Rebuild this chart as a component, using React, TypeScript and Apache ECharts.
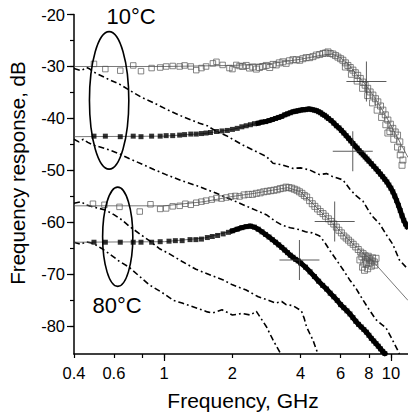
import React, { useEffect, useRef } from "react";
import * as echarts from "echarts";

// ---------- axis ticks ----------
const xMin = 0.4;
const xMax = 11.9;
const yMin = -85.3;
const yMax = -20;
const xLabelValues = [0.4, 0.6, 1, 2, 4, 6, 8, 10];
const xMinorTickValues = [0.4, 0.6, 0.8, 1, 2, 4, 6, 8, 10];
const xMajorTickValues = [1, 10];
const yLabelValues = [-80, -70, -60, -50, -40, -30, -20];
const yMinorTickValues = [-80, -75, -70, -65, -60, -55, -50, -45, -40, -35, -30, -25, -20];

// ---------- 10 °C ----------
const open10: number[][] = [
  [0.49, -29.5], [0.55, -30.5], [0.64, -30.8], [0.73, -29.8], [0.79, -30.9], [0.88, -30.3], [0.96, -30.2],
  [1.02, -30.0], [1.09, -29.9], [1.17, -30.0], [1.23, -29.8], [1.31, -30.0], [1.385, -30.7], [1.46, -30.3],
  [1.53, -30.0], [1.64, -29.4], [1.7, -29.1], [1.81, -29.7], [1.94, -30.3], [2.0, -30.5], [2.08, -29.7],
  [2.15, -29.9], [2.22, -30.0], [2.3, -29.8], [2.38, -30.3], [2.46, -30.1], [2.55, -30.5], [2.63, -30.2],
  [2.72, -30.0], [2.82, -29.8], [2.92, -30.2], [3.02, -29.6], [3.12, -29.7], [3.22, -29.3], [3.34, -29.1],
  [3.45, -29.4], [3.57, -28.9], [3.7, -28.7], [3.83, -28.7], [3.96, -28.8], [4.09, -28.5], [4.23, -28.3],
  [4.38, -28.3], [4.53, -28.1], [4.69, -27.8], [4.85, -27.7], [5.02, -27.5], [5.15, -27.4], [5.28, -27.2],
  [5.4, -27.5], [5.55, -27.6], [5.7, -27.9], [5.84, -28.2], [6.0, -28.5], [6.14, -28.8], [6.3, -29.3],
  [6.46, -29.8], [6.62, -30.2], [6.8, -30.7], [6.97, -31.2], [7.14, -31.7], [7.33, -32.3], [7.52, -33.0],
  [7.7, -33.6], [7.9, -34.2], [8.1, -34.9], [8.33, -35.5], [8.55, -36.2], [8.76, -36.8], [9.0, -37.6],
  [9.22, -38.4], [9.45, -39.3], [9.7, -40.3], [9.95, -41.1], [10.2, -41.9], [10.45, -42.6], [10.7, -43.2],
  [10.95, -44.5], [11.15, -46.0], [11.3, -48.0],
  [6.3, -30.1], [6.7, -31.5], [7.1, -32.8], [7.5, -34.2], [7.9, -35.6], [8.3, -37.0], [8.7, -38.4],
  [9.1, -39.8], [9.5, -41.2], [9.9, -42.5], [10.3, -44.0], [10.7, -45.5], [11.0, -47.0], [11.2, -49.0],
  [9.7, -42.8],
];
const fitOpen10: number[][] = [
  [0.4, -30.0], [1, -30.0], [2, -29.8], [3, -29.4], [4, -28.6], [5, -27.8], [5.5, -27.6], [6, -28.3],
  [6.5, -29.6], [7, -31.3], [7.7, -33.4], [8.5, -36.0], [9.5, -39.5], [10.5, -43.0], [11.9, -47.5],
];
const filled10: number[][] = [
  [0.49, -43.4], [0.55, -43.4], [0.64, -43.5], [0.73, -43.4], [0.79, -43.5], [0.88, -43.4], [0.96, -43.4],
  [1.02, -43.3], [1.09, -43.3], [1.17, -43.2], [1.23, -43.1], [1.31, -43.0], [1.385, -43.0], [1.46, -42.9],
  [1.53, -42.8], [1.6, -42.7], [1.7, -42.5], [1.8, -42.4], [1.9, -42.3], [2.0, -42.1], [2.1, -41.9],
  [2.2, -41.6], [2.3, -41.4], [2.4, -41.2], [2.5, -41.0], [2.6, -40.9], [2.7, -40.7], [2.8, -40.6],
  [2.9, -40.4], [3.0, -40.2], [3.1, -40.0], [3.2, -39.8], [3.3, -39.6], [3.4, -39.3], [3.5, -39.1],
  [3.6, -38.9], [3.7, -38.7], [3.8, -38.6], [3.9, -38.5], [4.0, -38.4], [4.1, -38.3], [4.2, -38.3],
  [4.3, -38.2], [4.4, -38.2], [4.5, -38.3], [4.6, -38.4], [4.7, -38.5], [4.8, -38.7], [4.9, -38.9],
  [5.0, -39.2], [5.1, -39.4], [5.2, -39.7], [5.3, -40.0], [5.45, -40.4], [5.6, -40.9], [5.75, -41.4],
  [5.9, -41.8], [6.05, -42.3], [6.2, -42.8], [6.35, -43.3], [6.5, -43.8], [6.65, -44.3], [6.8, -44.8],
  [6.95, -45.3], [7.1, -45.7], [7.25, -46.2], [7.4, -46.6], [7.55, -47.0], [7.7, -47.4], [7.85, -47.8],
  [8.0, -48.2], [8.2, -48.7], [8.4, -49.2], [8.6, -49.7], [8.8, -50.2], [9.0, -50.7], [9.2, -51.2],
  [9.4, -51.7], [9.6, -52.2], [9.8, -52.8], [10.0, -53.4], [10.2, -54.1], [10.4, -54.9], [10.6, -55.8],
  [10.8, -56.7], [11.0, -57.7], [11.2, -58.7], [11.4, -59.6], [11.6, -60.3], [11.8, -60.8],
];
const fitFilled10: number[][] = [
  [0.4, -43.5], [1, -43.4], [1.5, -42.9], [2, -42.1], [3, -40.2], [4, -38.4], [4.4, -38.2], [5, -39.2],
  [6, -42.2], [7, -45.4], [8, -48.2], [9, -50.7], [10, -53.4], [11, -57.7], [11.9, -61.0],
];
const dashA10: number[][] = [
  [0.4, -30.4], [0.43, -30.8], [0.455, -30.2], [0.47, -30.5], [0.49, -31.1], [0.57, -32.5], [0.635, -33.4],
  [0.73, -35.0], [0.8, -36.0], [0.9, -37.0], [1.02, -38.2], [1.2, -39.6], [1.43, -40.9], [1.55, -41.4],
  [1.7, -42.5], [1.88, -43.3], [2.22, -45.1], [2.5, -46.2], [2.82, -47.3], [3.02, -48.6], [3.3, -48.9],
  [3.7, -49.6], [4.0, -49.5], [4.38, -49.9], [4.85, -50.8], [5.2, -50.6], [5.55, -51.2], [6.14, -51.8],
  [6.6, -53.6], [7.0, -54.8], [7.53, -55.9], [8.2, -58.6], [8.93, -60.3], [9.6, -62.5], [10.2, -64.2],
  [10.9, -67.2], [11.9, -69.0],
];
const dashB10: number[][] = [
  [0.4, -44.0], [0.42, -44.5], [0.44, -44.0], [0.46, -44.6], [0.485, -45.1], [0.56, -45.9], [0.635, -46.8],
  [0.7, -47.7], [0.8, -48.8], [0.9, -49.8], [1.02, -50.8], [1.2, -52.0], [1.43, -53.1], [1.7, -54.4],
  [2.0, -55.7], [2.4, -57.2], [2.82, -58.5], [3.1, -59.8], [3.34, -60.6], [3.6, -61.0], [3.96, -61.4],
  [4.2, -61.8], [4.5, -62.0], [4.85, -62.6], [5.1, -63.8], [5.4, -65.5], [5.75, -67.2], [6.2, -69.3],
  [6.57, -71.0], [7.0, -72.6], [7.53, -74.9], [8.0, -76.7], [8.6, -78.7], [9.1, -79.6], [9.5, -80.2],
  [10.0, -82.0], [10.7, -84.5], [10.9, -85.3],
];

// ---------- 80 °C ----------
const open80: number[][] = [
  [0.485, -56.4], [0.545, -56.6], [0.635, -57.0], [0.78, -57.9], [0.87, -56.5], [0.96, -57.4], [1.02, -57.3],
  [1.09, -56.9], [1.17, -56.8], [1.24, -56.4], [1.31, -56.6], [1.385, -56.2], [1.46, -56.0], [1.53, -55.8],
  [1.62, -55.6], [1.7, -55.3], [1.79, -55.4], [1.88, -55.2], [1.97, -55.0], [2.06, -54.9], [2.15, -55.0],
  [2.25, -54.7], [2.35, -54.6], [2.45, -54.6], [2.55, -54.4], [2.65, -54.3], [2.75, -54.1], [2.85, -54.0],
  [2.95, -53.9], [3.05, -53.8], [3.15, -53.7], [3.25, -53.5], [3.35, -53.4], [3.45, -53.2], [3.55, -53.3],
  [3.65, -53.4], [3.75, -53.6], [3.85, -53.8], [3.95, -54.1], [4.05, -54.4], [4.15, -54.8], [4.25, -55.1],
  [4.38, -55.8], [4.5, -56.4], [4.62, -56.9], [4.75, -57.4], [4.88, -57.9], [5.02, -58.3], [5.15, -58.8],
  [5.3, -59.3], [5.45, -59.8], [5.6, -60.3], [5.75, -60.9], [5.9, -61.5], [6.05, -62.0], [6.2, -62.6],
  [6.35, -63.0], [6.5, -63.4], [6.65, -63.8], [6.82, -64.2], [7.0, -64.7], [7.18, -65.2], [7.36, -65.7],
  [7.54, -66.0], [7.7, -66.4], [7.88, -66.8], [8.06, -67.0], [8.25, -67.4], [8.45, -67.6],
  [7.3, -67.2], [7.45, -66.6], [7.6, -67.8], [7.8, -68.0], [7.75, -67.2], [7.95, -66.5], [8.1, -67.8],
  [8.3, -66.8], [8.5, -68.2], [8.6, -66.9], [7.5, -68.6], [7.9, -68.9], [8.2, -68.4], [7.65, -69.2],
];
const fitOpen80: number[][] = [
  [0.4, -56.8], [1, -56.8], [1.5, -56.0], [2, -55.0], [2.5, -54.4], [3, -53.8], [3.5, -53.3], [4, -54.1],
  [4.5, -56.3], [5, -58.3], [5.5, -60.0], [6, -61.8], [6.5, -63.3], [7, -64.6], [7.5, -65.8], [8, -66.8],
  [8.35, -67.5], [11.9, -75.0],
];
const filled80: number[][] = [
  [0.49, -63.8], [0.55, -63.8], [0.64, -63.8], [0.73, -63.8], [0.79, -63.8], [0.88, -63.8], [0.96, -63.7],
  [1.05, -63.6], [1.12, -63.5], [1.2, -63.5], [1.3, -63.3], [1.38, -63.3], [1.46, -63.2], [1.55, -62.9],
  [1.63, -62.7], [1.72, -62.5], [1.82, -62.2], [1.92, -61.9], [2.0, -61.6], [2.1, -61.3], [2.2, -61.0],
  [2.3, -60.8], [2.4, -60.7], [2.5, -60.9], [2.6, -61.3], [2.7, -61.8], [2.8, -62.3], [2.9, -62.8],
  [3.0, -63.3], [3.1, -63.8], [3.2, -64.3], [3.3, -64.8], [3.4, -65.3], [3.5, -65.8], [3.6, -66.3],
  [3.7, -66.7], [3.8, -67.1], [3.9, -67.4], [4.0, -67.8], [4.2, -68.6], [4.4, -69.5], [4.6, -70.4],
  [4.8, -71.3], [5.0, -72.1], [5.2, -72.8], [5.4, -73.6], [5.6, -74.3], [5.8, -75.0], [6.0, -75.8],
  [6.2, -76.4], [6.4, -77.0], [6.6, -77.6], [6.8, -78.3], [7.0, -79.0], [7.2, -79.6], [7.4, -80.1],
  [7.6, -80.6], [7.8, -81.1], [8.0, -81.7], [8.2, -82.3], [8.4, -82.8], [8.6, -83.3], [8.8, -83.8],
  [9.0, -84.3], [9.2, -84.8], [9.4, -85.2],
];
const fitFilled80: number[][] = [
  [0.4, -63.8], [1, -63.7], [1.5, -63.0], [2, -61.6], [2.4, -60.7], [2.8, -62.2], [3.5, -65.7],
  [4, -67.8], [5, -72.0], [6, -75.8], [7, -79.0], [8, -81.7], [9, -84.3], [9.6, -85.5],
];
const dashA80: number[][] = [
  [0.4, -56.3], [0.43, -56.0], [0.45, -56.6], [0.485, -57.0], [0.55, -57.6], [0.6, -58.5], [0.65, -59.5],
  [0.7, -60.7], [0.78, -62.2], [0.86, -63.5], [0.95, -65.0], [1.05, -66.0], [1.2, -67.5], [1.38, -69.0],
  [1.64, -70.3], [1.81, -71.0], [2.0, -72.0], [2.3, -73.0], [2.6, -74.3], [2.9, -75.0], [3.1, -75.5],
  [3.3, -75.2], [3.45, -75.8], [3.7, -76.0], [4.03, -77.0], [4.15, -78.5], [4.24, -80.0], [4.4, -81.5],
  [4.53, -82.6], [4.65, -84.0], [4.77, -85.3],
];
const dashB80: number[][] = [
  [0.4, -63.8], [0.43, -64.2], [0.45, -63.7], [0.485, -64.0], [0.53, -65.0], [0.58, -66.2], [0.635, -67.5],
  [0.7, -68.6], [0.78, -70.4], [0.86, -72.0], [0.98, -73.5], [1.1, -75.0], [1.2, -75.5], [1.4, -76.5],
  [1.55, -77.2], [1.64, -77.4], [1.8, -76.8], [2.0, -77.8], [2.2, -77.5], [2.4, -77.8], [2.55, -77.1],
  [2.64, -78.1], [2.82, -80.0], [3.02, -82.6], [3.26, -85.2],
];

// crosses marking the cut-off points
const crossPoints: number[][] = [
  [7.8, -32.9], [6.79, -46.3], [5.65, -59.8], [3.95, -67.2],
];
// ellipses: [f left, f right, top dB, bottom dB]
const ellipses: number[][] = [
  [0.468, 0.698, -23.3, -49.75],
  [0.535, 0.727, -53.2, -72.3],
];
const tempLabels = ["10°C", "80°C"];
// frequency above which the filled markers merge into a continuous band
const bandFrom10 = 2.6;
const bandFrom80 = 2.0;

const FONT = "'Liberation Sans', Arial, Helvetica, sans-serif";
const lg = (pts: number[][]) => pts.map(([f, v]) => [Math.log10(f), v]);

export default function App() {
  const ref = useRef<HTMLDivElement>(null);
  useEffect(() => {
    if (!ref.current) return;
    const chart = echarts.init(ref.current, null, { renderer: "svg" });
    const xCommon = {
      type: "value",
      min: Math.log10(xMin),
      max: Math.log10(xMax),
      position: "bottom",
      splitLine: { show: false },
    };
    const yCommon = {
      type: "value",
      min: yMin,
      max: yMax,
      position: "left",
      splitLine: { show: false },
    };
    const thin = (data: number[][]) => ({
      type: "line",
      data: lg(data),
      symbol: "none",
      lineStyle: { color: "#555", width: 0.8 },
      z: 2,
    });
    const dash = (data: number[][]) => ({
      type: "line",
      data: lg(data),
      symbol: "none",
      lineStyle: { color: "#000", width: 1.6, type: [6, 3, 1.8, 3] },
      z: 1,
    });
    const band = (data: number[][], from: number) => ({
      type: "line",
      data: lg(data.filter((p) => p[0] >= from)),
      symbol: "none",
      lineStyle: { color: "#000", width: 5, cap: "square", join: "round" },
      z: 3,
    });
    const openSq = (data: number[][]) => ({
      type: "scatter",
      data: lg(data),
      symbol: "rect",
      symbolSize: (v: number[]) => (v[0] > Math.log10(2.2) ? 6 : 5.5),
      itemStyle: { color: "rgba(255,255,255,0)", borderColor: "#555", borderWidth: 0.9 },
      z: 3,
    });
    const filledSq = (data: number[][]) => ({
      type: "scatter",
      data: lg(data),
      symbol: "rect",
      symbolSize: 5,
      itemStyle: { color: "#000" },
      z: 3,
    });
    const option: any = {
      animation: false,
      textStyle: { fontFamily: FONT },
      grid: { left: 74, right: 0, top: 14.5, bottom: 63, containLabel: false, outerBoundsMode: "none" },
      xAxis: [
        {
          ...xCommon,
          axisLine: { show: true, onZero: false, lineStyle: { color: "#000", width: 1.5 } },
          axisTick: {
            show: true,
            length: 4,
            customValues: xMinorTickValues.map((v) => Math.log10(v)),
            lineStyle: { color: "#000", width: 1.2 },
          },
          axisLabel: {
            show: true,
            margin: 10,
            fontSize: 16.5,
            color: "#000",
            fontFamily: FONT,
            customValues: xLabelValues.map((v) => Math.log10(v)),
            formatter: (v: number) => String(Number(Math.pow(10, v).toPrecision(2))),
          },
        },
        {
          ...xCommon,
          axisLine: { show: false, onZero: false },
          axisTick: {
            show: true,
            length: 7,
            customValues: xMajorTickValues.map((v) => Math.log10(v)),
            lineStyle: { color: "#000", width: 1.2 },
          },
          axisLabel: { show: false },
        },
      ],
      yAxis: [
        {
          ...yCommon,
          axisLine: { show: true, onZero: false, lineStyle: { color: "#000", width: 1.5 } },
          axisTick: { show: true, length: 7, customValues: yLabelValues, lineStyle: { color: "#000", width: 1.2 } },
          axisLabel: {
            show: true,
            margin: 9,
            fontSize: 16.5,
            color: "#000",
            fontFamily: FONT,
            customValues: yLabelValues,
          },
        },
        {
          ...yCommon,
          axisLine: { show: false, onZero: false },
          axisTick: { show: true, length: 4, customValues: yMinorTickValues, lineStyle: { color: "#000", width: 1.2 } },
          axisLabel: { show: false },
        },
      ],
      series: [
        dash(dashA10),
        dash(dashB10),
        dash(dashA80),
        dash(dashB80),
        thin(fitOpen10),
        thin(fitFilled10),
        thin(fitOpen80),
        thin(fitFilled80),
        band(filled10, bandFrom10),
        band(filled80, bandFrom80),
        openSq(open10),
        filledSq(filled10),
        openSq(open80),
        filledSq(filled80),
        {
          type: "scatter",
          data: lg(crossPoints),
          symbol: "path://M19.5,0H20.5V40H19.5Z M0,19.5H40V20.5H0Z",
          symbolSize: 40,
          itemStyle: { color: "#333" },
          z: 5,
        },
        {
          type: "custom",
          data: ellipses.map(([a, b, t, bt]) => [Math.log10(a), Math.log10(b), t, bt]),
          dimensions: ["x1", "x2", "y1", "y2"],
          encode: { x: [0, 1], y: [2, 3] },
          z: 6,
          renderItem: (_p: any, api: any) => {
            const p1 = api.coord([api.value(0), api.value(2)]);
            const p2 = api.coord([api.value(1), api.value(3)]);
            return {
              type: "ellipse",
              shape: {
                cx: (p1[0] + p2[0]) / 2,
                cy: (p1[1] + p2[1]) / 2,
                rx: Math.abs(p2[0] - p1[0]) / 2,
                ry: Math.abs(p2[1] - p1[1]) / 2,
              },
              style: { fill: "none", stroke: "#000", lineWidth: 1.6 },
            };
          },
        },
      ],
      graphic: [
        {
          type: "text",
          x: 131,
          y: 16,
          style: { text: tempLabels[0], font: `22px ${FONT}`, fill: "#000", textAlign: "center", textVerticalAlign: "middle" },
        },
        {
          type: "text",
          x: 117,
          y: 305.5,
          style: { text: tempLabels[1], font: `22px ${FONT}`, fill: "#000", textAlign: "center", textVerticalAlign: "middle" },
        },
        {
          type: "text",
          x: 17,
          y: 173,
          rotation: Math.PI / 2,
          style: {
            text: "Frequency response, dB",
            font: `20.5px ${FONT}`,
            fill: "#000",
            textAlign: "center",
            textVerticalAlign: "middle",
          },
        },
        {
          type: "text",
          x: 243,
          y: 400,
          style: {
            text: "Frequency, GHz",
            font: `21px ${FONT}`,
            fill: "#000",
            textAlign: "center",
            textVerticalAlign: "middle",
          },
        },
      ],
    };
    chart.setOption(option);
    return () => chart.dispose();
  }, []);
  return (
    <div
      ref={ref}
      style={{ position: "fixed", left: 0, top: 0, width: 408, height: 417, background: "#fff" }}
    />
  );
}
